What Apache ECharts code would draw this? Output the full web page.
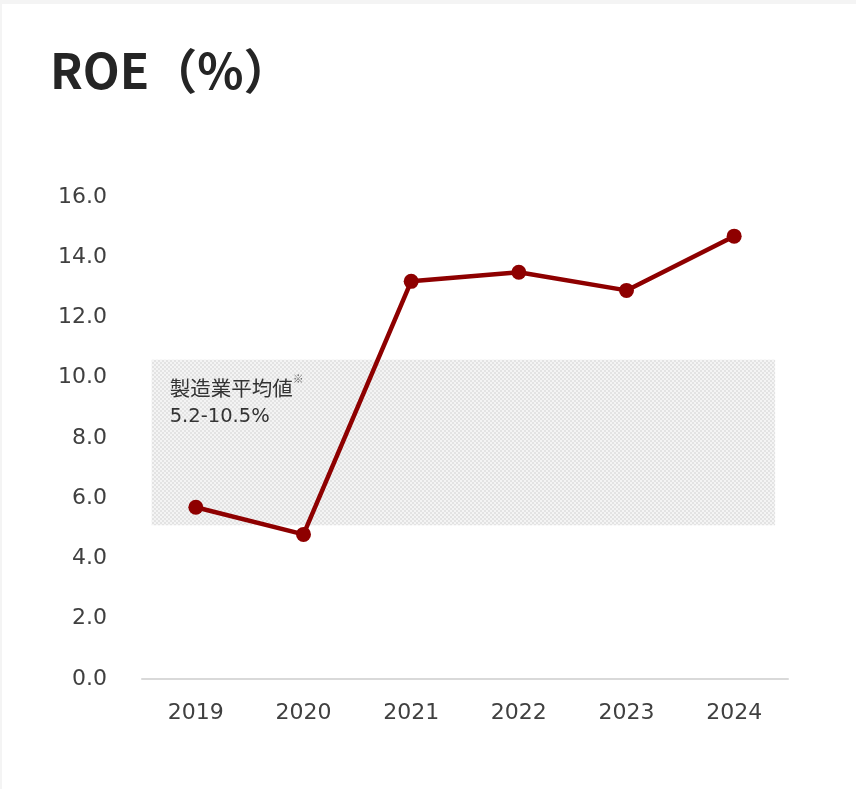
<!DOCTYPE html>
<html>
<head>
<meta charset="utf-8">
<script src="https://cdn.jsdelivr.net/npm/echarts@6/dist/echarts.min.js"></script>
<style>
  html, body { margin: 0; padding: 0; background: #f4f4f4; }
  #chart { position: absolute; left: 2px; top: 4px; width: 854px; height: 785px; background: #fff; }
</style>
</head>
<body>
<div id="chart"></div>
<script>
var years = ['2019', '2020', '2021', '2022', '2023', '2024'];
var roe = [5.7, 4.8, 13.2, 13.5, 12.9, 14.7];
var bandY = [5.1, 10.6];
var bandX = [-0.41, 5.38];   // on hidden index axis, -0.5..5.5
var yTicks = { min: 0, max: 16, interval: 2 };

// dotted grey fill like the original
function makePattern() {
  var c = document.createElement('canvas');
  c.width = 4; c.height = 4;
  var ctx = c.getContext('2d');
  ctx.fillStyle = '#f4f4f4';
  ctx.fillRect(0, 0, 4, 4);
  ctx.fillStyle = '#e3e3e3';
  ctx.fillRect(0, 0, 2, 2);
  ctx.fillRect(2, 2, 2, 2);
  return c;
}

var myChart = echarts.init(document.getElementById('chart'));
var cjk = '"Noto Sans CJK JP", sans-serif';
var num = '"DejaVu Sans", sans-serif';

var option = {
  backgroundColor: '#fff',
  animation: false,
  title: {
    text: 'ROE（%）',
    left: 43,
    top: 38,
    textStyle: { fontFamily: cjk, fontSize: 48, fontWeight: 'bold', color: '#252525' }
  },
  grid: { left: 140, right: 68, top: 193, bottom: 110 },
  xAxis: [{
    type: 'category',
    data: years,
    axisLine: { lineStyle: { color: '#d9d9d9', width: 2 } },
    axisTick: { show: false },
    axisLabel: { fontFamily: num, fontSize: 22, color: '#404040', margin: 23 }
  }, {
    type: 'value',
    min: -0.5,
    max: 5.5,
    show: false
  }],
  yAxis: {
    type: 'value',
    min: yTicks.min,
    max: yTicks.max,
    interval: yTicks.interval,
    splitLine: { show: false },
    axisLine: { show: false },
    axisTick: { show: false },
    axisLabel: {
      fontFamily: num, fontSize: 22, color: '#404040', margin: 35,
      padding: [5, 0, 0, 0],
      formatter: function (v) { return v.toFixed(1); }
    }
  },
  series: [{
    type: 'line',
    xAxisIndex: 1,
    data: [],
    markArea: {
      silent: true,
      itemStyle: { color: { image: makePattern(), repeat: 'repeat' } },
      label: {
        position: 'insideTopLeft',
        distance: 0,
        offset: [18, 14],
        color: '#333',
        lineHeight: 29,
        formatter: '{a|製造業平均値}{s|※}\n{b|5.2-10.5%}',
        rich: {
          a: { fontFamily: cjk, fontSize: 20.5, color: '#333', lineHeight: 29 },
          b: { fontFamily: num, fontSize: 19.5, color: '#333', lineHeight: 29 },
          s: { fontFamily: cjk, fontSize: 11, color: '#666', verticalAlign: 'top', lineHeight: 29 }
        }
      },
      data: [[{ xAxis: bandX[0], yAxis: bandY[0] }, { xAxis: bandX[1], yAxis: bandY[1] }]]
    }
  }, {
    type: 'line',
    data: roe,
    symbol: 'circle',
    symbolSize: 15,
    lineStyle: { color: '#8e0000', width: 4.5 },
    itemStyle: { color: '#8e0000' },
    z: 5
  }]
};
myChart.setOption(option);
</script>
</body>
</html>
